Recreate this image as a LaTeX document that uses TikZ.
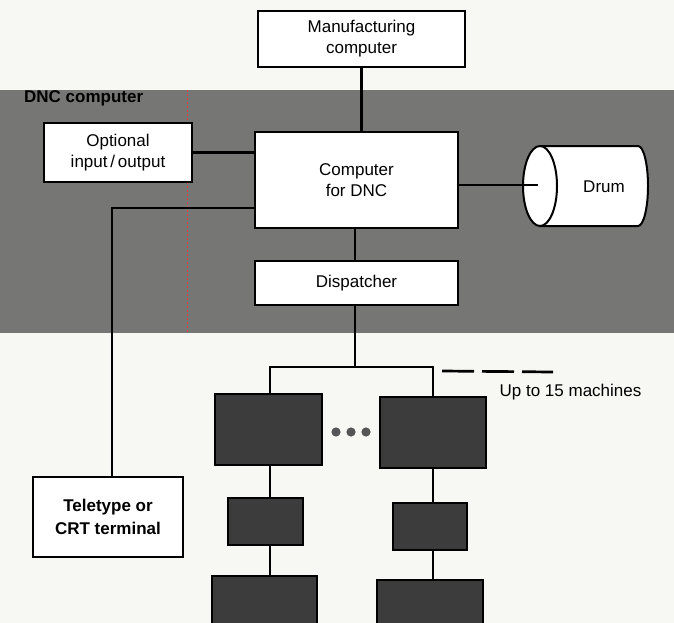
\documentclass[tikz,border=0pt]{standalone}
\usepackage{fontspec}
\setmainfont{Liberation Sans}
\definecolor{paper}{RGB}{247,247,243}
\definecolor{shadegray}{RGB}{118,118,116}
\definecolor{machine}{RGB}{60,60,60}
\definecolor{dotgray}{RGB}{85,85,85}
\begin{document}
\begin{tikzpicture}[x=1pt,y=-1pt]
\tikzset{
  lbl/.style={font=\fontsize{17}{21}\selectfont, align=center},
  wbox/.style={draw=black, line width=2pt, fill=white, inner sep=0pt, lbl},
  mbox/.style={draw=black, line width=2pt, fill=machine, inner sep=0pt},
  conn/.style={line width=2.7pt},
  dotc/.style={fill=dotgray, draw=none}
}
\useasboundingbox (0,0) rectangle (674,623);
\clip (0,0) rectangle (674,623);
\fill[paper] (0,0) rectangle (674,623);
% shaded DNC computer system area
\fill[shadegray] (0,90) rectangle (674,333);
\draw[red!75, line width=0.8pt, dash pattern=on 2pt off 2pt] (187,90) -- (187,333);
\node[anchor=west, font=\fontsize{17}{19}\selectfont\bfseries, inner sep=0pt] (dnc) at (24,98) {DNC computer};

% boxes
\node[wbox, minimum width=207pt, minimum height=56pt] (mfg) at (361.5,39) {Manufacturing\\computer};
\node[wbox, minimum width=148pt, minimum height=59pt] (opt) at (118,152.5) {Optional\\input\,/\,output};
\node[wbox, minimum width=203pt, minimum height=96pt] (comp) at (356.5,180) {Computer\\for DNC};
\node[wbox, minimum width=203pt, minimum height=44pt] (disp) at (356.5,283) {Dispatcher};
\node[wbox, minimum width=150pt, minimum height=80pt, font=\fontsize{17}{23}\selectfont\bfseries] (tele) at (108,517) {Teletype or\\CRT terminal};

% drum
\draw[line width=2pt, fill=white] (540,146) -- (638,146) arc[start angle=-90, end angle=90, x radius=10, y radius=40] -- (540,226) -- cycle;
\draw[line width=2pt, fill=white] (540,186) ellipse[x radius=17, y radius=40];
\node[lbl, inner sep=0pt] (drum) at (604,187) {Drum};

% machines
\node[mbox, minimum width=107pt, minimum height=71pt] (m1a) at (268.5,429.5) {};
\node[mbox, minimum width=75pt, minimum height=47pt] (m1b) at (265.5,521.5) {};
\node[mbox, minimum width=105pt, minimum height=54pt] (m1c) at (264.5,603) {};
\node[mbox, minimum width=106pt, minimum height=71pt] (m2a) at (433,432.5) {};
\node[mbox, minimum width=74pt, minimum height=47pt] (m2b) at (430,526.5) {};
\node[mbox, minimum width=106pt, minimum height=50pt] (m2c) at (430,605) {};
\fill[dotc] (336,432) circle[radius=4.6];
\fill[dotc] (351,432) circle[radius=4.6];
\fill[dotc] (366,432) circle[radius=4.6];

% connectors
\coordinate (tc) at (112,208);
\coordinate (dc) at (538,185);
\coordinate (bl) at (270,367);
\coordinate (bm) at (355,367);
\coordinate (br) at (433,367);
\coordinate (d1) at (442,371);
\coordinate (d2) at (553,372);
\draw[conn] (mfg.south) -- (mfg.south |- comp.north);
\draw[conn] (opt.east) -- (opt.east -| comp.west);
\draw[conn] (comp.west |- tc) -- (tc) -- (tc |- tele.north);
\draw[conn] (comp.east |- dc) -- (dc);
\draw[conn] (comp.south -| bm) -- (disp.north -| bm);
\draw[conn] (disp.south -| bm) -- (bm);
\draw[conn] (bl |- m1a.north) -- (bl) -- (br) -- (br |- m2a.north);
\draw[conn, dash pattern=on 32pt off 8pt] (d1) -- (d2);
\draw[conn] (bl |- m1a.south) -- (bl |- m1b.north);
\draw[conn] (bl |- m1b.south) -- (bl |- m1c.north);
\draw[conn] (br |- m2a.south) -- (br |- m2b.north);
\draw[conn] (br |- m2b.south) -- (br |- m2c.north);
\node[lbl, inner sep=0pt] (upto) at (570.5,392) {Up to 15 machines};
\end{tikzpicture}
\end{document}
